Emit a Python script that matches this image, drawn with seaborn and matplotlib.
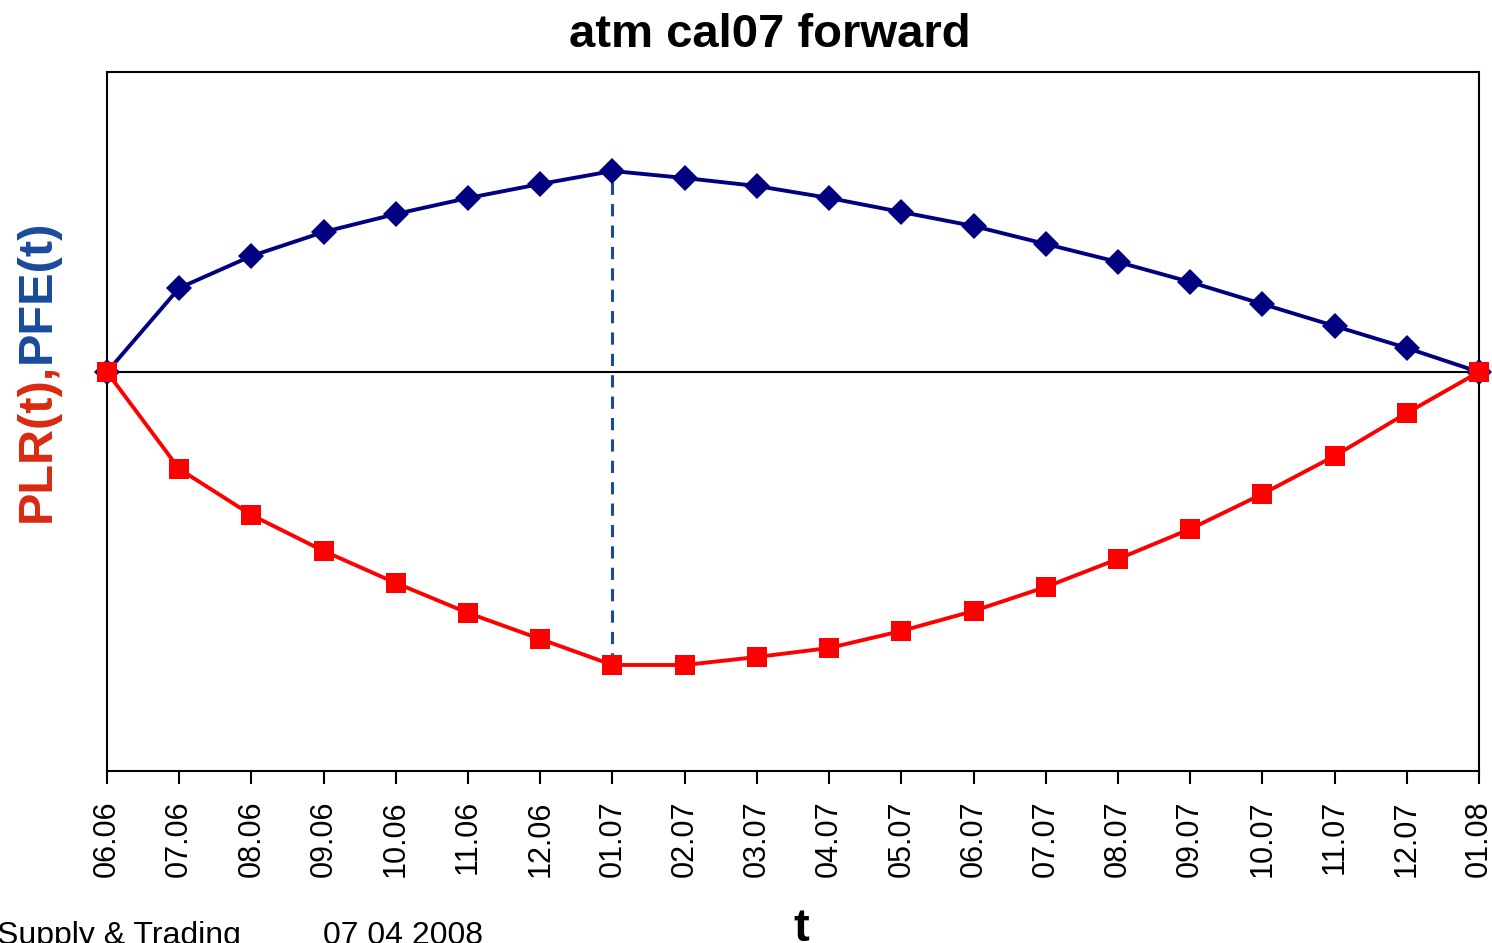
import numpy as np
import pandas as pd
import seaborn as sns
import matplotlib.pyplot as plt

# months on the x axis
months = ['06.06', '07.06', '08.06', '09.06', '10.06', '11.06', '12.06',
          '01.07', '02.07', '03.07', '04.07', '05.07', '06.07', '07.07',
          '08.07', '09.07', '10.07', '11.07', '12.07', '01.08']
# PFE(t) (arbitrary units)
pfe = [0, 84, 116, 140, 158, 174, 188, 201, 194, 186,
       174, 160, 146, 128, 110, 90, 68, 46, 24, 0]
# PLR(t)
plr = [0, -97, -143, -179, -211, -241, -267, -293, -293, -285,
       -276, -259, -239, -215, -187, -157, -122, -84, -41, 0]
peak_idx = 7

blue = '#000080'
red = '#FF0000'
lab_red = '#D92A10'
lab_blue = '#1A4A9C'

sns.set_style('white', {'text.color': 'black', 'xtick.color': 'black',
                        'axes.labelcolor': 'black'})
plt.rcParams['font.family'] = ['Liberation Sans', 'DejaVu Sans']

df = pd.DataFrame({'pos': np.arange(len(months)), 'PFE': pfe, 'PLR': plr})

fig = plt.figure(figsize=(14.92, 9.43), dpi=100)
ax = fig.add_axes([107 / 1492, 1 - 771 / 943, (1479 - 107) / 1492, (771 - 72) / 943])

ax.axhline(0, color='black', linewidth=1.5, zorder=1)
ax.plot([peak_idx, peak_idx], [plr[peak_idx], pfe[peak_idx]],
        color=lab_blue, linestyle=(0, (4, 3)), linewidth=2.2, zorder=2)

sns.lineplot(data=df, x='pos', y='PFE', ax=ax, color=blue, linewidth=2.8,
             marker='D', markersize=13, markeredgewidth=0, zorder=3, clip_on=False)
sns.lineplot(data=df, x='pos', y='PLR', ax=ax, color=red, linewidth=2.8,
             marker='s', markersize=14, markeredgewidth=0, zorder=4, clip_on=False)

ax.set_xlim(0, len(months) - 1)
ax.set_ylim(-399, 300)
ax.set_xticks(df['pos'])
ax.set_xticklabels(months, rotation=90, fontsize=22, color='black')
ax.set_yticks([])
ax.set_xlabel('')
ax.set_ylabel('')
ax.tick_params(axis='x', direction='out', length=9, width=1.5, color='black',
               bottom=True, pad=12)
for s in ax.spines.values():
    s.set_color('black')
    s.set_linewidth(1.5)

fig.text(770 / 1492, 1 - 47 / 943, 'atm cal07 forward', ha='center', va='baseline',
         fontsize=34, fontweight='bold', color='black')
fig.text(801 / 1492, 1 - 941 / 943, 't', ha='center', va='baseline',
         fontsize=34, fontweight='bold', color='black')
fig.text(-3 / 1492, 1 - 944 / 943, 'Supply & Trading', ha='left', va='baseline',
         fontsize=23, color='black')
fig.text(323 / 1492, 1 - 944 / 943, '07 04 2008', ha='left', va='baseline',
         fontsize=23, color='black')

# two-colour y label
t1 = fig.text(60 / 1492, 1 - 522 / 943, 'PLR(t),', rotation=90, ha='right', va='bottom',
              fontsize=35, fontweight='bold', color=lab_red)
fig.canvas.draw()
bb = t1.get_window_extent()
fig.text(60 / 1492, bb.y1 / fig.bbox.height, 'PFE(t)', rotation=90, ha='right', va='bottom',
         fontsize=35, fontweight='bold', color=lab_blue)

fig.savefig('out.png', dpi=100)
